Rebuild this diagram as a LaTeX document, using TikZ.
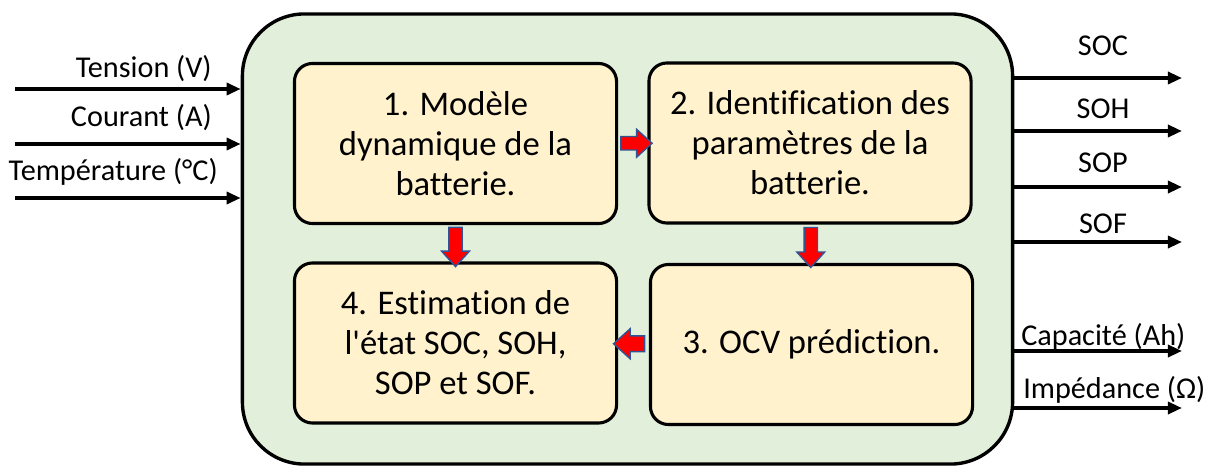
\documentclass[tikz,border=0pt]{standalone}
\usepackage{fontspec}
\setmainfont{Carlito}[Ligatures={NoCommon,TeXOff}]
\usetikzlibrary{arrows.meta,shapes.arrows,calc}
\definecolor{outerfill}{HTML}{E2EFDA}
\definecolor{innerfill}{HTML}{FFF2CC}
\definecolor{arrowedge}{HTML}{2F5597}
\begin{document}
\begin{tikzpicture}[x=0.025cm,y=-0.025cm,
  stagebox/.style={draw=black,line width=2.2pt,fill=innerfill,rounded corners=0.45cm,
    minimum width=8.05cm,minimum height=4.0cm,align=center,
    font=\fontsize{24.6}{28.5}\selectfont},
  flowarrow/.style={single arrow,draw=arrowedge,fill=red,line width=1pt,
    minimum height=0.78cm,inner xsep=0pt,inner ysep=0.15cm,
    single arrow head extend=0.18cm,single arrow tip angle=84},
  signal/.style={line width=2.4pt,-{Triangle[length=10pt,width=8.5pt]}},
  siglabel/.style={font=\fontsize{21.5}{24}\selectfont,inner sep=0pt}]
\useasboundingbox (0,0) rectangle (1212,466);

% outer block
\node[draw=black,line width=2.4pt,fill=outerfill,rounded corners=1.55cm,
  minimum width=19.25cm,minimum height=11.25cm] (outer) at (627.5,239) {};

% processing stages
\node[stagebox] (s1) at (455.5,143.5) {1. Modèle\\dynamique de la\\batterie.};
\node[stagebox] (s2) at (810,143) {2. Identification des\\paramètres de la\\batterie.};
\node[stagebox] (s3) at (811.5,344.5) {3. OCV prédiction.};
\node[stagebox] (s4) at (455.5,343) {4. Estimation de\\l'état SOC, SOH,\\SOP et SOF.};

% transitions between stages
\node[flowarrow] (a12) at ($(s1.east)!0.5!(s2.west)$) {};
\node[flowarrow,rotate=-90,minimum height=0.98cm] (a14) at ($(s1.south)!0.5!(s4.north)$) {};
\node[flowarrow,rotate=-90,minimum height=1.0cm] (a23) at ($(s2.south)!0.5!(s3.north)$) {};
\node[flowarrow,rotate=180,inner ysep=0.18cm] (a34) at ($(s3.west)!0.5!(s4.east)$) {};

% inputs
\coordinate (i1) at (15,89);
\coordinate (i2) at (15,144);
\coordinate (i3) at (15,198);
\draw[signal] (i1) -- (i1 -| outer.west);
\draw[signal] (i2) -- (i2 -| outer.west);
\draw[signal] (i3) -- (i3 -| outer.west);
\node[siglabel,anchor=base east] (l1) at (212,78) {Tension (V)};
\node[siglabel,anchor=base east] (l2) at (212,127) {Courant (A)};
\node[siglabel,anchor=base east] (l3) at (218,180) {Température (°C)};

% outputs
\foreach \n/\y in {o1/78,o2/131,o3/187,o4/242,o5/351,o6/408}{
  \coordinate (\n) at (1182,\y);
  \draw[signal] (\n -| outer.east) -- (\n);
}
\node[siglabel,anchor=base] (t1) at (1103,56) {SOC};
\node[siglabel,anchor=base] (t2) at (1103,119) {SOH};
\node[siglabel,anchor=base] (t3) at (1103,172) {SOP};
\node[siglabel,anchor=base] (t4) at (1103,233) {SOF};
\node[siglabel,anchor=base west] (t5) at (1021,345) {Capacité (Ah)};
\node[siglabel,anchor=base west] (t6) at (1023,398) {Impédance (Ω)};
\end{tikzpicture}
\end{document}
